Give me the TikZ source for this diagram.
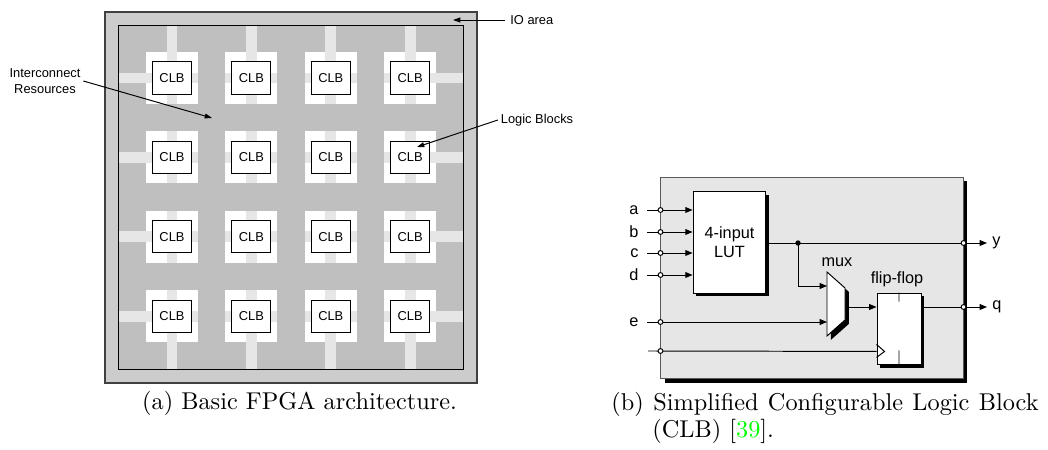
\documentclass[tikz,border=0pt]{standalone}
\usepackage{fontspec}
\setsansfont{Liberation Sans}
\usetikzlibrary{arrows.meta,shadows,positioning}
\definecolor{ioarea}{RGB}{204,204,204}
\definecolor{routing}{RGB}{191,191,191}
\definecolor{track}{RGB}{230,230,230}
\definecolor{cellgray}{RGB}{230,230,230}
\definecolor{citegreen}{RGB}{0,255,0}
\tikzset{
  lbl/.style={font=\sffamily\fontsize{5.3}{6.6}\selectfont,inner sep=1pt},
  sig/.style={font=\sffamily\fontsize{6.7}{7.8}\selectfont,inner sep=2pt},
  clb/.style={lbl,draw,fill=white,minimum width=16pt,minimum height=13.2pt,inner sep=0pt},
  strip/.style={draw=track,line width=4.5pt},
  tipa/.style={-{Triangle[length=3pt,width=2pt]}},
  tipb/.style={-{Triangle[length=3pt,width=2.4pt]}},
  port/.style={circle,draw,fill=white,inner sep=0pt,minimum size=2pt},
  block/.style={draw,fill=white,inner sep=0pt,align=center,font=\sffamily\fontsize{6.7}{7.8}\selectfont},
  dshadow/.style={drop shadow={shadow xshift=#1,shadow yshift=-#1,opacity=1,fill=black}}
}
\begin{document}
\begin{tikzpicture}[x=0.4115pt,y=-0.4115pt,line width=0.4pt]
\useasboundingbox (0,0) rectangle (1048,450);
\draw[draw=black!75,line width=0.6pt,fill=ioarea] (105,12) rectangle (477,383);
\fill[routing] (118,25) rectangle (463,369);
\foreach \k in {0,...,3}
  \draw[strip] (172+79.4*\k,25) -- ++(0,40) (172+79.4*\k,369) -- ++(0,-40)
    (118,78+79.4*\k) -- ++(40,0) (463,78+79.4*\k) -- ++(-40,0);
\draw (118,25) rectangle (463,369);
\foreach \i in {0,...,3}
  \foreach \j in {0,...,3}{
    \coordinate (c\i\j) at (172+79.4*\i,78+79.4*\j);
    \fill[white] ([shift={(-26,-26)}]c\i\j) rectangle ([shift={(26,26)}]c\i\j);
    \draw[strip] ([shift={(0,-26)}]c\i\j) -- ([shift={(0,26)}]c\i\j)
      ([shift={(-26,0)}]c\i\j) -- ([shift={(26,0)}]c\i\j);
    \node[clb] (clb\i\j) at (c\i\j) {CLB};
  }
\node[lbl,anchor=west,inner xsep=2pt] (io) at (505,20) {IO area};
\coordinate (iotip) at (453,20);
\draw[tipa] (io.west) -- (iotip);
\node[lbl,align=center] (icr) at (45,81) {Interconnect\\Resources};
\coordinate (icrtip) at (212,118);
\draw[tipa] (icr.east) -- (icrtip);
\node[lbl] (lb) at (537,120) {Logic Blocks};
\coordinate (lbtip) at (417,147);
\draw[tipa] (lb.west) -- (lbtip);
\node[draw=black!65,fill=cellgray,minimum width=124.3pt,minimum height=83.1pt,inner sep=0pt,dshadow=1.6pt] (cell) at (812,278) {};
\node[block,minimum width=30pt,minimum height=41.6pt,dshadow=1.4pt] (lut) at (729.5,242.5) {4-input\\LUT};
\draw[fill=white,dshadow=1.6pt] (827,272) -- (845,288) -- (845,320) -- (827,336) -- cycle;
\coordinate (mux1) at (827,286);
\coordinate (mux2) at (827,322);
\coordinate (muxo) at (845,307);
\node[sig] (mux) at (837,262) {mux};
\node[block,minimum width=18.1pt,minimum height=29.6pt,dshadow=1.3pt] (ff) at (899,329) {};
\node[sig] (fflbl) at (897,279) {flip-flop};
\draw (ff.north) -- ++(0,9) (ff.south) -- ++(0,-15)
  ([shift={(0,-21)}]ff.south west) -- ([shift={(8,-14)}]ff.south west) -- ([shift={(0,-8)}]ff.south west);
\foreach \s/\y in {a/210,b/232,c/253,d/275}{
  \node[sig,anchor=east,inner xsep=3.3pt] (\s) at (647,\y) {\s};
  \draw[tipb] (\s) -- (\s -| lut.west);
}
\node[sig,anchor=east,inner xsep=3.3pt] (e) at (647,322) {e};
\coordinate (clkin) at (648,351);
\coordinate (jn) at (798,243);
\node[sig,anchor=west] (outy) at (987,243) {y};
\node[sig,anchor=west] (outq) at (987,307) {q};
\draw[tipb] (lut.east |- outy) -- (outy);
\draw[tipb] (jn) |- (mux1);
\draw[tipb] (e) -- (mux2);
\draw[tipb] (muxo) -- (ff.west |- muxo);
\draw (clkin) -- ([shift={(0,-14)}]ff.south west);
\draw[tipb] (ff.east |- outq) -- (outq);
\fill (jn) circle[radius=1.1pt];
\foreach \s in {a,b,c,d,e,clkin} \node[port] at (cell.west |- \s) {};
\foreach \s in {outy,outq} \node[port] at (cell.east |- \s) {};
\node[anchor=base,inner sep=0pt] (capa) at (299.5,410) {(a) Basic FPGA architecture.};
\node[anchor=base west,inner sep=0pt] (capb) at (611,411) {\spaceskip=3.85pt (b) Simplified Configurable Logic Block};
\node[anchor=base west,inner sep=0pt] (capc) at (652,438) {(CLB) [\textcolor{citegreen}{39}].};
\end{tikzpicture}
\end{document}
